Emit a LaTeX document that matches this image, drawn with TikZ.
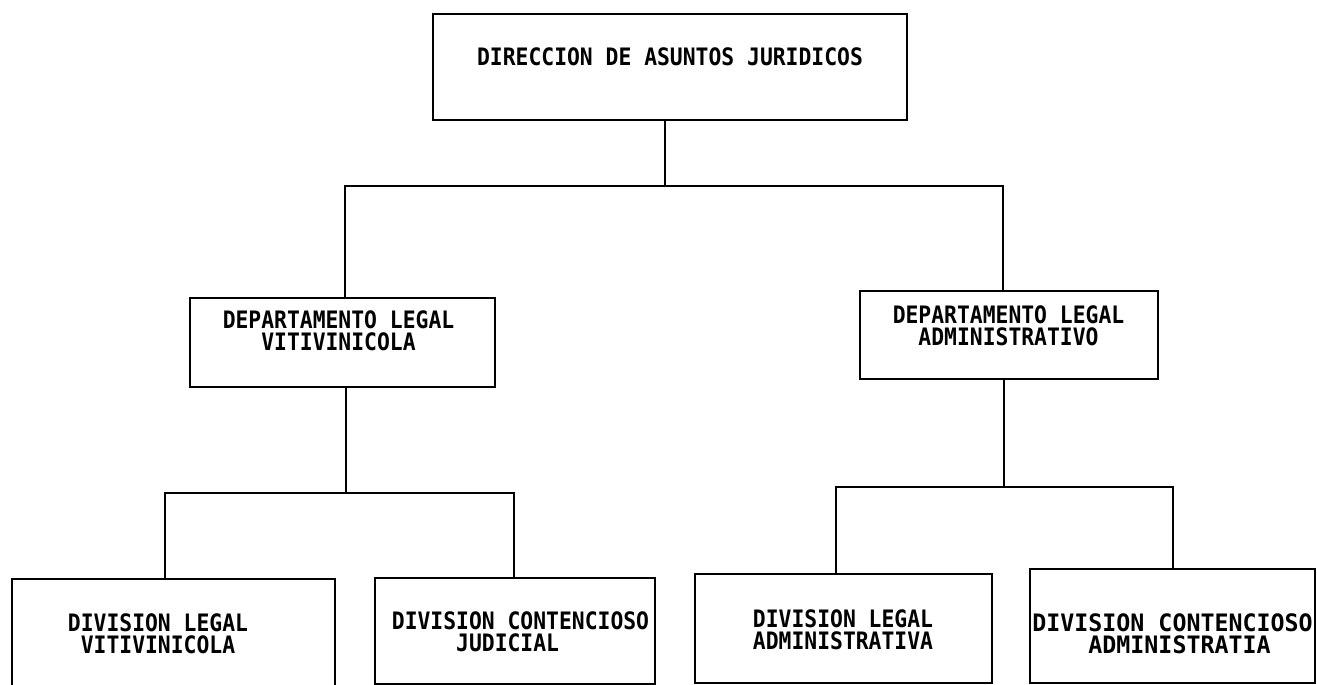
\documentclass[tikz,border=0pt]{standalone}
\usepackage{fontspec}
\newfontfamily\plotfont[FakeStretch=0.89]{DejaVu Sans Mono Bold}
\newfontfamily\plotfontw[FakeStretch=0.97]{DejaVu Sans Mono Bold}
\begin{document}
\begin{tikzpicture}[x=1pt,y=-1pt,
  box/.style={draw, line width=2.8pt, rectangle, inner sep=0pt},
  lbl/.style={inner sep=0pt, align=center, font=\plotfont\fontsize{24}{22}\selectfont},
  lblw/.style={inner sep=0pt, align=center, font=\plotfontw\fontsize{24}{22}\selectfont},
  conn/.style={line width=2.8pt}]
\useasboundingbox (0,0) rectangle (1317,685);
\clip (0,0) rectangle (1317,685);

% boxes
\node[box, minimum width=474pt, minimum height=106pt] (top) at (670,67) {};
\node[box, minimum width=305pt, minimum height=89pt] (dl) at (342.5,342.5) {};
\node[box, minimum width=298pt, minimum height=88pt] (dr) at (1009,335) {};
\node[box, minimum width=323pt, minimum height=113pt] (b1) at (173.5,635.5) {};
\node[box, minimum width=280pt, minimum height=106pt] (b2) at (515,631) {};
\node[box, minimum width=297pt, minimum height=109pt] (b3) at (843.5,628.5) {};
\node[box, minimum width=285pt, minimum height=114pt] (b4) at (1172.5,626) {};

% texts
\node[lbl] (topt) at (670,56.5) {DIRECCION DE ASUNTOS JURIDICOS};
\node[lbl] (dlt) at (338.5,331) {DEPARTAMENTO LEGAL\\VITIVINICOLA};
\node[lbl] (drt) at (1008.5,326) {DEPARTAMENTO LEGAL\\ADMINISTRATIVO};
\node[lbl] (b1t) at (158,633.5) {DIVISION LEGAL\\VITIVINICOLA};
\node[lbl] (b2t) at (520.5,631.5) {DIVISION CONTENCIOSO\\JUDICIAL\phantom{XX}};
\node[lbl] (b3t) at (843,630) {DIVISION LEGAL\\ADMINISTRATIVA};
\node[lblw] (b4t) at (1172.5,633.5) {DIVISION CONTENCIOSO\\\phantom{X}ADMINISTRATIA};

% junctions
\coordinate (j0) at (665,186);
\coordinate (jl) at (345,186);
\coordinate (jr) at (1003,186);
\coordinate (jdl) at (346,493);
\coordinate (jb1) at (165,493);
\coordinate (jb2) at (514,493);
\coordinate (jdr) at (1004,487);
\coordinate (jb3) at (836,487);
\coordinate (jb4) at (1173,487);

% connectors
\draw[conn] (top.south -| j0) -- (j0);
\draw[conn] (dl.north -| jl) |- (jr) -- (dr.north -| jr);
\draw[conn] (dl.south -| jdl) -- (jdl);
\draw[conn] (b1.north -| jb1) |- (jb2) -- (b2.north -| jb2);
\draw[conn] (dr.south -| jdr) -- (jdr);
\draw[conn] (b3.north -| jb3) |- (jb4) -- (b4.north -| jb4);
\end{tikzpicture}
\end{document}
